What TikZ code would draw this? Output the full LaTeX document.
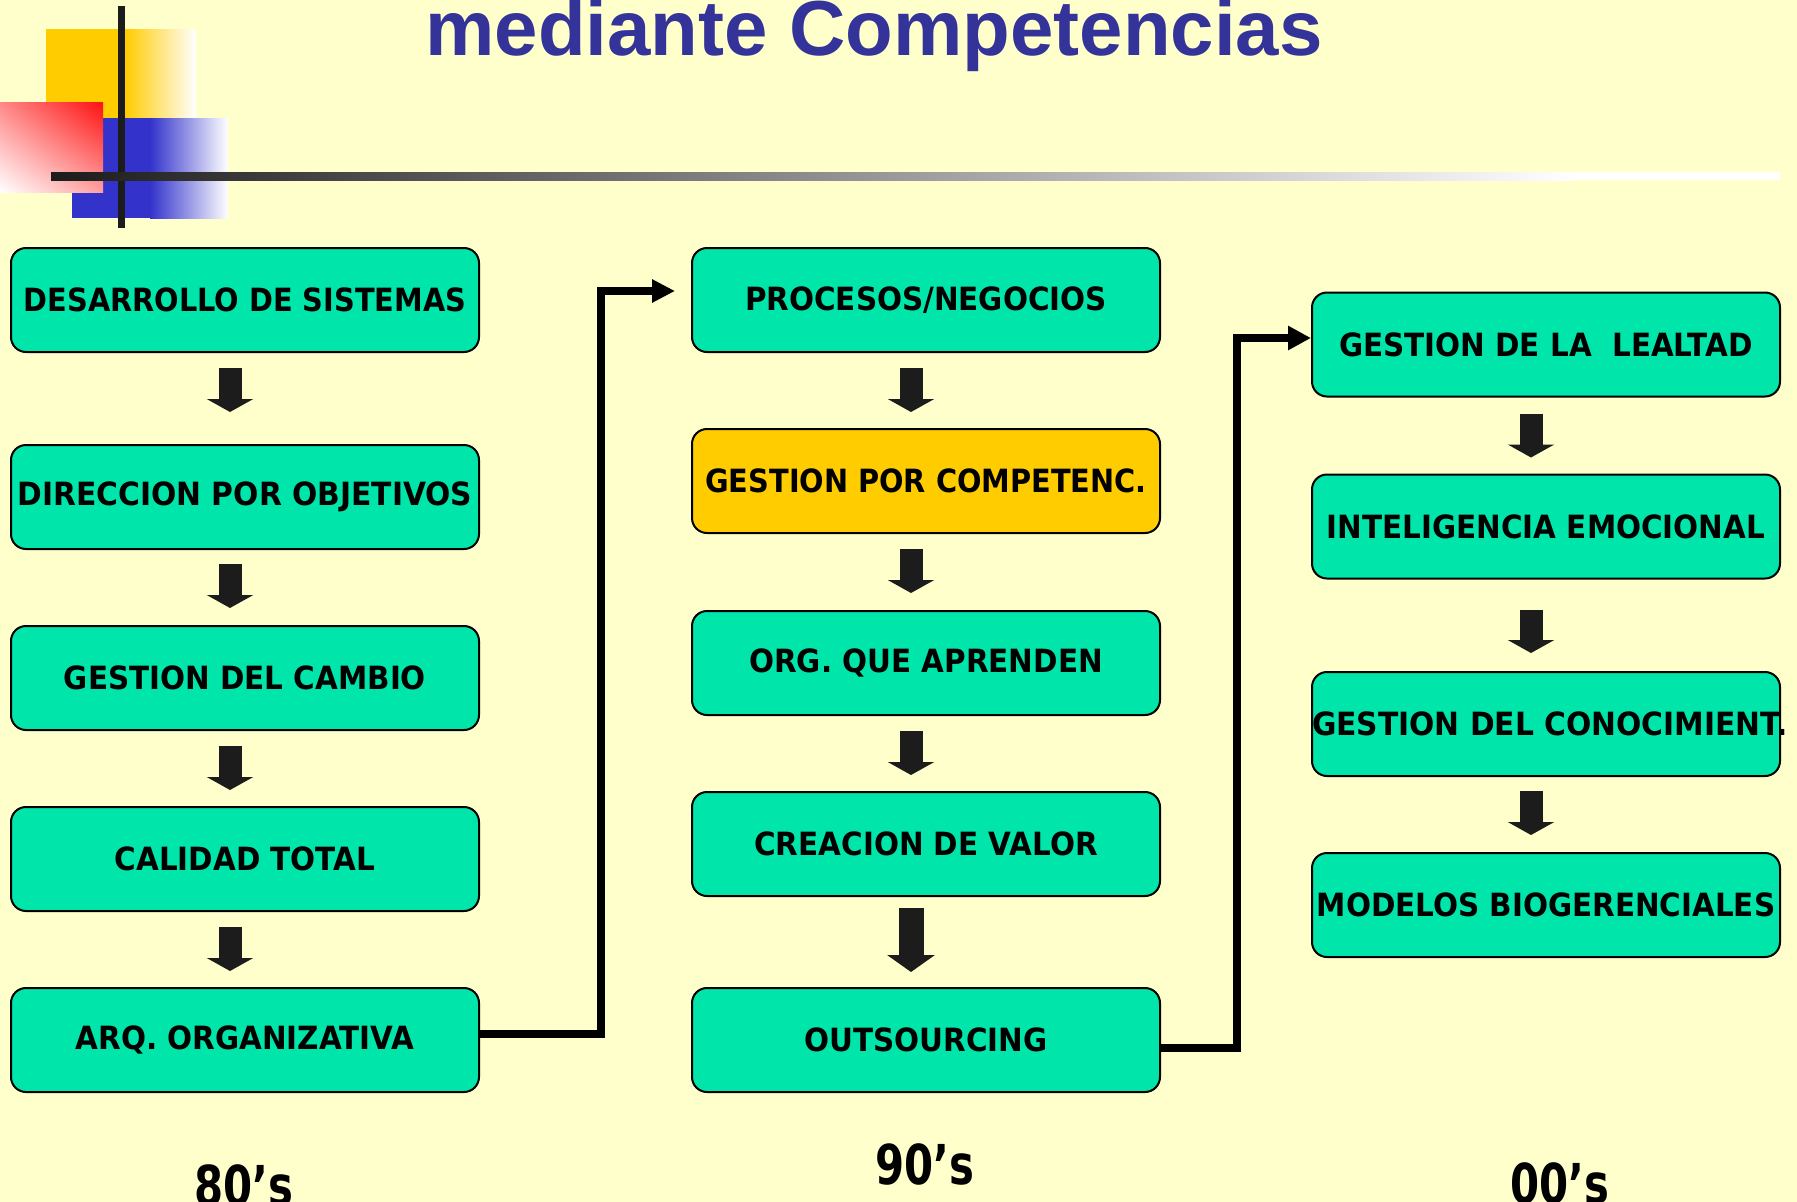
\documentclass[tikz,border=0pt]{standalone}
\usepackage{fontspec}
\setmainfont{DejaVu Sans}
\newfontfamily\titlefont{Liberation Sans}
\usetikzlibrary{arrows.meta,shadings}
\definecolor{bgc}{HTML}{FFFFCC}
\definecolor{boxc}{HTML}{00E5AA}
\definecolor{ylwc}{HTML}{FFCC00}
\definecolor{titc}{HTML}{333399}
\definecolor{arrc}{HTML}{1C1C1C}
\definecolor{bluc}{HTML}{3333CC}
\definecolor{redc}{HTML}{FF1010}
\newcommand\narrowtxt[2]{\scalebox{#1}[1]{#2}}
\tikzset{
  box/.style={draw=black, line width=2pt, fill=boxc, rounded corners=15pt,
    minimum width=468pt, minimum height=104pt, inner sep=0pt},
  lbl/.style={font=\fontsize{32}{34}\selectfont\bfseries, inner sep=0pt},
  yearlbl/.style={font=\fontsize{55}{57}\selectfont\bfseries, inner sep=0pt, anchor=base},
  blk/.style={line width=23pt, draw=arrc, -{Triangle[length=13pt,width=46pt]}},
  blkbig/.style={line width=25pt, draw=arrc, -{Triangle[length=17pt,width=47pt]}},
  conn/.style={line width=7.5pt, draw=black, line join=miter, -{Triangle[length=23pt,width=22pt]}}
}
\begin{document}
\begin{tikzpicture}[x=1pt,y=-1pt]
\useasboundingbox (0,0) rectangle (1797,1202);
\fill[bgc] (0,0) rectangle (1797,1202);
% decoration
\fill[ylwc] (46,29) rectangle (125,130);
\shade[left color=ylwc, right color=white] (125,29) rectangle (196,130);
\fill[bluc] (72,118) rectangle (150,218);
\shade[left color=bluc, right color=white] (150,118) rectangle (228,218);
\shade[upper right=redc, lower left=white, upper left=redc!50!white, lower right=redc!40!white] (0,102) rectangle (103,192);
\fill[arrc] (118,6) rectangle (125,228);
\shade[left color=arrc, right color=white] (51,172) rectangle (1575,180);
\fill[white] (1575,172) rectangle (1780,180);
% title
\node[font=\titlefont\bfseries\fontsize{78}{80}\selectfont, text=titc, anchor=base, inner sep=0pt] (title) at (874,55) {mediante Competencias};
% left column
\node[box] (a1) at (245,300) {};
\node[box] (a2) at (245,497) {};
\node[box] (a3) at (245,678) {};
\node[box] (a4) at (245,859) {};
\node[box] (a5) at (245,1040) {};
\node[lbl] (ta1) at (a1) {\narrowtxt{0.9}{DESARROLLO DE SISTEMAS}};
\node[lbl] (ta2) at (a2) {\narrowtxt{0.93}{DIRECCION POR OBJETIVOS}};
\node[lbl] (ta3) at (a3) {\narrowtxt{0.92}{GESTION DEL CAMBIO}};
\node[lbl] (ta4) at (a4) {\narrowtxt{0.92}{CALIDAD TOTAL}};
\node[lbl] (ta5) at (a5) {\narrowtxt{0.92}{ARQ. ORGANIZATIVA}};
% middle column
\node[box] (m1) at (926,300) {};
\node[box, fill=ylwc] (m2) at (926,481) {};
\node[box] (m3) at (926,663) {};
\node[box] (m4) at (926,844) {};
\node[box] (m5) at (926,1040) {};
\node[lbl] (tm1) at (m1) {\narrowtxt{0.92}{PROCESOS/NEGOCIOS}};
\node[lbl] (tm2) at (m2) {\narrowtxt{0.9}{GESTION POR COMPETENC.}};
\node[lbl] (tm3) at (m3) {\narrowtxt{0.92}{ORG. QUE APRENDEN}};
\node[lbl] (tm4) at (m4) {\narrowtxt{0.92}{CREACION DE VALOR}};
\node[lbl] (tm5) at (m5) {\narrowtxt{0.92}{OUTSOURCING}};
% right column
\node[box] (r1) at (1546,344.5) {};
\node[box] (r2) at (1546,526.5) {};
\node[box] (r3) at (1546,724) {};
\node[box] (r4) at (1546,905) {};
\node[lbl] (tr1) at (r1) {\narrowtxt{0.92}{GESTION DE LA\ \ LEALTAD}};
\node[lbl] (tr2) at (r2) {\narrowtxt{0.92}{INTELIGENCIA EMOCIONAL}};
\node[lbl] (tr3) at ([xshift=4pt]r3.center) {\narrowtxt{0.93}{GESTION DEL CONOCIMIENT.}};
\node[lbl] (tr4) at (r4) {\narrowtxt{0.92}{MODELOS BIOGERENCIALES}};
% block arrows
\draw[blk] ([shift={(-15,15)}]a1.south) -- ([shift={(-15,-32)}]a2.north);
\draw[blk] ([shift={(-15,14)}]a2.south) -- ([shift={(-15,-17)}]a3.north);
\draw[blk] ([shift={(-15,15)}]a3.south) -- ([shift={(-15,-16)}]a4.north);
\draw[blk] ([shift={(-15,15)}]a4.south) -- ([shift={(-15,-16)}]a5.north);
\draw[blk] ([shift={(-15,15)}]m1.south) -- ([shift={(-15,-16)}]m2.north);
\draw[blk] ([shift={(-15,15)}]m2.south) -- ([shift={(-15,-17)}]m3.north);
\draw[blk] ([shift={(-15,15)}]m3.south) -- ([shift={(-15,-16)}]m4.north);
\draw[blkbig] ([shift={(-15,11)}]m4.south) -- ([shift={(-15,-15)}]m5.north);
\draw[blk] ([shift={(-15,16)}]r1.south) -- ([shift={(-15,-16)}]r2.north);
\draw[blk] ([shift={(-15,30)}]r2.south) -- ([shift={(-15,-18)}]r3.north);
\draw[blk] ([shift={(-15,14)}]r3.south) -- ([shift={(-15,-17)}]r4.north);
% connectors
\draw[conn] ([yshift=6pt]a5.east) -- ++(121,0) |- ([xshift=-16pt,yshift=9pt]m1.west);
\draw[conn, line width=8pt, -{Triangle[length=23pt,width=23pt]}] ([yshift=-8pt]m5.east) -- ++(76,0) |- ([yshift=6.5pt]r1.west);
% years
\node[yearlbl] (y1) at (244,1205) {\narrowtxt{0.76}{80’s}};
\node[yearlbl] (y2) at (925,1184) {\narrowtxt{0.76}{90’s}};
\node[yearlbl] (y3) at (1560,1203) {\narrowtxt{0.76}{00’s}};
\end{tikzpicture}
\end{document}
